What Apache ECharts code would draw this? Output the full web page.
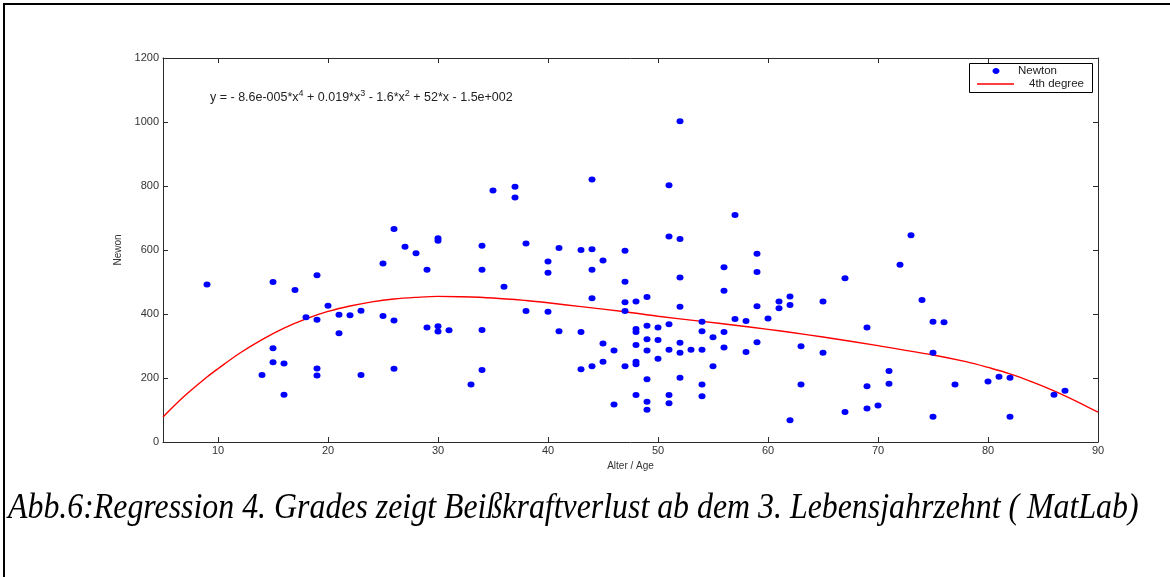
<!DOCTYPE html>
<html>
<head>
<meta charset="utf-8">
<title>Beißkraft nach Alter</title>
<script src="https://cdn.jsdelivr.net/npm/echarts@6/dist/echarts.min.js"></script>
<style>
  html, body { margin: 0; padding: 0; background: #fff; }
  #chart { width: 1170px; height: 577px; }
</style>
</head>
<body>
<div id="chart"></div>
<script>
// Measured bite force (Newton) by age
const ages = [
  9, 14, 15, 15, 15, 16, 16, 17, 18, 19, 19, 19, 19, 20, 21, 21, 22, 23, 23,
  25, 25, 26, 26, 26, 27, 28, 29, 29, 30, 30, 30, 30, 31, 33, 34, 34, 34, 34,
  35, 36, 37, 37, 38, 38, 40, 40, 40, 41, 41, 43, 43, 43, 44, 44, 44, 44, 44,
  45, 45, 45, 46, 46, 47, 47, 47, 47, 47, 48, 48, 48, 48, 48, 48, 48,
  49, 49, 49, 49, 49, 49, 49, 50, 50, 50, 51, 51, 51, 51, 51, 51,
  52, 52, 52, 52, 52, 52, 52, 53, 54, 54, 54, 54, 54, 55, 55, 56, 56, 56, 56,
  57, 57, 58, 58, 59, 59, 59, 59, 60, 61, 61, 62, 62, 62, 63, 63, 65, 65,
  67, 67, 69, 69, 69, 70, 71, 71, 72, 73, 74, 75, 75, 75, 76, 77, 80, 81,
  82, 82, 86, 87
];
const newton = [
  492, 209, 500, 293, 249, 245, 148, 475, 390, 521, 382, 230, 208, 426, 398, 340, 396, 410, 209,
  558, 394, 666, 380, 229, 610, 590, 538, 358, 637, 629, 362, 345, 349, 180, 613, 538, 350, 225,
  786, 485, 798, 764, 620, 409, 564, 529, 407, 606, 346, 600, 344, 227, 820, 602, 538, 449, 237,
  567, 308, 251, 286, 117, 598, 501, 437, 409, 237, 439, 353, 344, 303, 251, 243, 147,
  453, 363, 321, 286, 196, 126, 101, 358, 319, 260, 802, 642, 368, 288, 147, 121,
  1002, 634, 514, 423, 310, 279, 201, 288, 376, 346, 288, 180, 143, 327, 237, 546, 473, 344, 295,
  709, 384, 378, 281, 588, 531, 424, 312, 386, 439, 418, 455, 428, 68, 299, 180, 439, 279,
  512, 94, 358, 174, 105, 114, 222, 182, 554, 646, 444, 376, 279, 79, 374, 180, 189, 204,
  201, 79, 148, 160
];

// 4th degree regression curve, sampled
const fitAges = [5, 7, 9, 10, 12, 14, 16, 18, 20, 22, 24, 26, 28, 30, 32, 35, 38, 40, 43, 47,
                 50, 54, 57, 60, 62, 65, 70, 75, 78, 80, 82, 84, 86, 88, 90];
const fitNewton = [78, 145, 203, 229, 278, 320, 356, 385, 408, 425, 438, 447, 452, 455, 454, 450, 442, 435, 423, 407,
                   393, 377, 365, 352, 343, 328, 301, 272, 251, 233, 213, 188, 160, 128, 93];

// Axis ticks
const xTicks = [10, 20, 30, 40, 50, 60, 70, 80, 90];
const yTicks = [0, 200, 400, 600, 800, 1000, 1200];

const seriesNames = ['Newton', '4th degree'];
const equationParts = ['y = - 8.6e-005*x', '4', ' + 0.019*x', '3', ' - 1.6*x', '2', ' + 52*x - 1.5e+002'];
const caption = 'Abb.6:Regression 4. Grades zeigt Beißkraftverlust ab dem 3. Lebensjahrzehnt ( MatLab)';

const scatterData = ages.map((a, i) => [a, newton[i]]);
const fitData = fitAges.map((a, i) => [a, fitNewton[i]]);

const AX = '#2b2b2b';
const LBL = '#333';
const SANS = '"Liberation Sans", Arial, sans-serif';

const boxAxis = (extra) => Object.assign({
  type: 'value',
  axisLine: { show: true, onZero: false, lineStyle: { color: AX, width: 1 } },
  axisTick: { show: true, inside: true, length: 5, lineStyle: { color: AX } },
  splitLine: { show: false },
  axisLabel: { show: false }
}, extra);

const chart = echarts.init(document.getElementById('chart'), null, { renderer: 'canvas' });

chart.setOption({
  backgroundColor: '#fff',
  animation: false,
  grid: { left: 163, right: 72, top: 58, bottom: 135 },
  xAxis: [
    boxAxis({
      position: 'bottom', min: 5, max: 90,
      axisTick: { show: true, inside: true, length: 5, customValues: xTicks, lineStyle: { color: AX } },
      axisLabel: { show: true, customValues: xTicks, color: LBL, fontSize: 11, fontFamily: SANS, margin: 3,
                   formatter: (v) => String(v) },
      name: 'Alter / Age', nameLocation: 'middle', nameGap: 14,
      nameTextStyle: { color: LBL, fontSize: 10, fontFamily: SANS }
    }),
    boxAxis({
      position: 'top', min: 5, max: 90,
      axisTick: { show: true, inside: true, length: 5, customValues: xTicks, lineStyle: { color: AX } }
    })
  ],
  yAxis: [
    boxAxis({
      position: 'left', min: 0, max: 1200, interval: 200,
      axisLabel: {
        show: true, color: LBL, fontSize: 11, fontFamily: SANS, margin: 4,
        customValues: yTicks, formatter: (v) => String(v)
      },
      name: 'Newon', nameLocation: 'middle', nameGap: 37, nameRotate: 90,
      nameTextStyle: { color: LBL, fontSize: 10, fontFamily: SANS }
    }),
    boxAxis({ position: 'right', min: 0, max: 1200, interval: 200 })
  ],
  series: [
    {
      name: seriesNames[0],
      type: 'scatter',
      data: scatterData,
      symbol: 'circle',
      symbolSize: [7, 6],
      itemStyle: { color: '#0000ff', opacity: 1 },
      z: 3
    },
    {
      name: seriesNames[1],
      type: 'line',
      data: fitData,
      smooth: 0.35,
      showSymbol: false,
      lineStyle: { color: '#ff0000', width: 1.4 },
      clip: true,
      z: 2
    }
  ],
  graphic: [
    // page frame
    { type: 'line', shape: { x1: 3, y1: 4, x2: 1170, y2: 4 }, style: { stroke: '#000', lineWidth: 2 } },
    { type: 'line', shape: { x1: 4, y1: 3, x2: 4, y2: 577 }, style: { stroke: '#000', lineWidth: 2 } },
    // regression formula
    {
      type: 'text', left: 210, top: 89,
      style: {
        text: '{b|' + equationParts[0] + '}{s|' + equationParts[1] + '}{b|' + equationParts[2] + '}{s|' +
              equationParts[3] + '}{b|' + equationParts[4] + '}{s|' + equationParts[5] + '}{b|' + equationParts[6] + '}',
        rich: {
          b: { fontSize: 12.5, fontFamily: SANS, fill: '#222', lineHeight: 15, verticalAlign: 'bottom' },
          s: { fontSize: 9, fontFamily: SANS, fill: '#222', lineHeight: 15, verticalAlign: 'top' }
        }
      }
    },
    // legend
    {
      type: 'group', left: 969, top: 63,
      children: [
        { type: 'rect', shape: { x: 0.5, y: 0.5, width: 123, height: 29 }, style: { fill: '#fff', stroke: '#000', lineWidth: 1 } },
        { type: 'ellipse', shape: { cx: 27, cy: 8, rx: 3.5, ry: 3 }, style: { fill: '#0000ff' } },
        { type: 'text', x: 49, y: 8, style: { text: seriesNames[0], fontSize: 11.5, fontFamily: SANS, fill: '#222', verticalAlign: 'middle' } },
        { type: 'line', shape: { x1: 8, y1: 21, x2: 45, y2: 21 }, style: { stroke: '#ff0000', lineWidth: 1.4 } },
        { type: 'text', x: 60, y: 21, style: { text: seriesNames[1], fontSize: 11.5, fontFamily: SANS, fill: '#222', verticalAlign: 'middle' } }
      ]
    },
    // figure caption (narrow italic serif)
    {
      type: 'text', x: 8, y: 509, scaleX: 0.885,
      style: {
        text: caption,
        fontSize: 36, fontStyle: 'italic', fontFamily: '"Liberation Serif", "Times New Roman", serif',
        fill: '#000', verticalAlign: 'middle'
      }
    }
  ]
});
</script>
</body>
</html>
